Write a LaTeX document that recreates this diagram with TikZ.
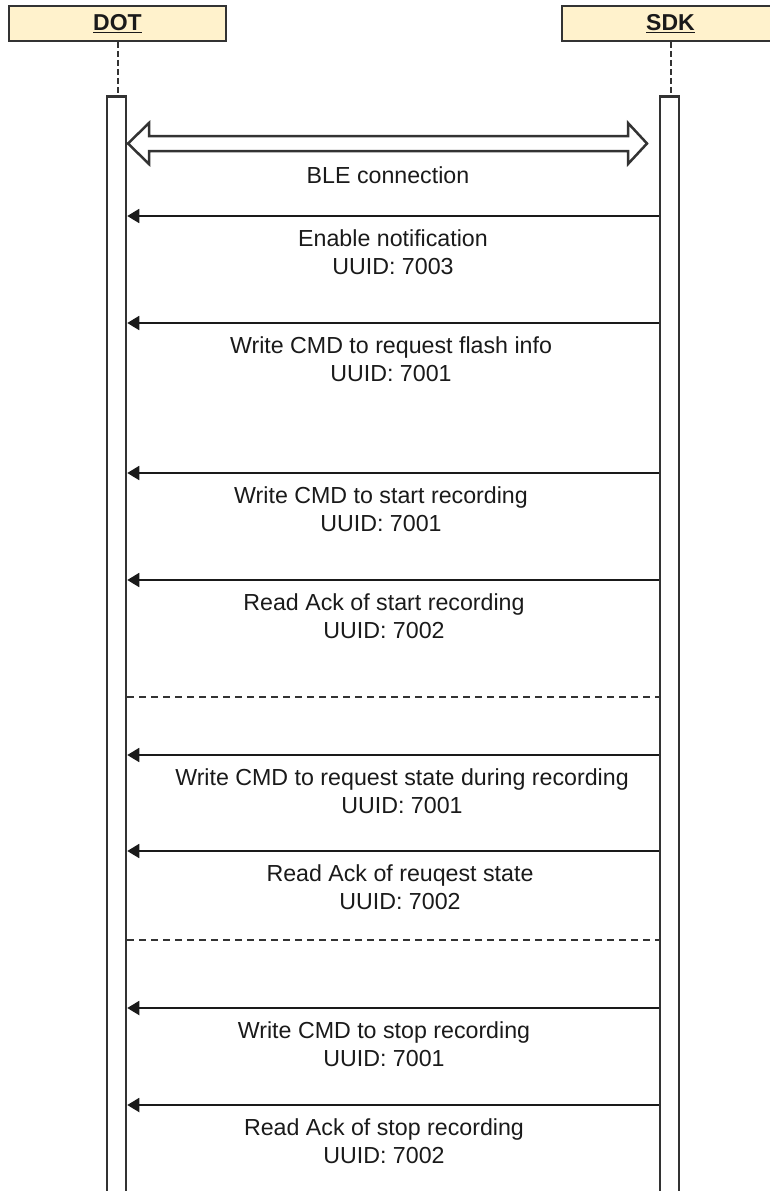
\documentclass[tikz,border=0pt]{standalone}
\usepackage{fontspec}
\setmainfont{Liberation Sans}
\usetikzlibrary{arrows.meta}
\definecolor{boxfill}{HTML}{FFF2CC}
\definecolor{strokec}{HTML}{333333}
\definecolor{textc}{HTML}{1A1A1A}
\begin{document}
\begin{tikzpicture}[x=1pt,y=-1pt,
  actor/.style={draw=strokec, line width=1.8pt, fill=boxfill, minimum width=217pt, minimum height=35pt, inner sep=0pt, font=\fontsize{23}{28}\selectfont\bfseries, text=textc},
  bar/.style={draw=strokec, line width=2.5pt, fill=white, minimum width=19pt, minimum height=1200pt, anchor=north, inner sep=0pt},
  life/.style={draw=strokec, line width=2pt, dash pattern=on 6pt off 3pt},
  msg/.style={draw=textc, line width=1.8pt, -{Triangle[length=12pt,width=14pt]}},
  sep/.style={draw=strokec, line width=1.8pt, dash pattern=on 7pt off 5pt},
  blockarrow/.style={draw=strokec, line width=2.5pt, fill=white, line join=miter},
  lbl/.style={align=center, anchor=north, inner sep=0pt, font=\fontsize{23.2}{28}\selectfont, text=textc}]
\useasboundingbox (0,0) rectangle (770,1191);
\clip (0,0) rectangle (770,1191);
% actors
\node[actor] (dot) at (117.5,23.5) {\underline{DOT}};
\node[actor] (sdk) at (670.5,23.5) {\underline{SDK}};
% activation bars
\node[bar] (dotbar) at (116.5,95) {};
\node[bar] (sdkbar) at (669.5,95) {};
% lifelines
\draw[life] (dot.south) -- (dot.south |- dotbar.north);
\draw[life] (sdk.south) -- (sdk.south |- sdkbar.north);
% BLE connection block arrow
\draw[blockarrow] (128,143.5) -- (149,123) -- (149,136) -- (628,136) -- (628,123) -- (647,143.5) -- (628,164) -- (628,151) -- (149,151) -- (149,164) -- cycle;
\node[lbl] (ble) at (388,166.5) {BLE connection};
% messages
\draw[msg] (sdkbar.west |- 0,216) -- (dotbar.east |- 0,216);
\node[lbl] (l1) at (393,229) {Enable notification\\UUID: 7003};
\draw[msg] (sdkbar.west |- 0,323) -- (dotbar.east |- 0,323);
\node[lbl] (l2) at (391,336) {Write CMD to request flash info\\UUID: 7001};
\draw[msg] (sdkbar.west |- 0,473) -- (dotbar.east |- 0,473);
\node[lbl] (l3) at (381,486) {Write CMD to start recording\\UUID: 7001};
\draw[msg] (sdkbar.west |- 0,580) -- (dotbar.east |- 0,580);
\node[lbl] (l4) at (384,593) {Read Ack of start recording\\UUID: 7002};
\draw[sep] (dotbar.east |- 0,697) -- (sdkbar.west |- 0,697);
\draw[msg] (sdkbar.west |- 0,755) -- (dotbar.east |- 0,755);
\node[lbl] (l5) at (402,768) {Write CMD to request state during recording\\UUID: 7001};
\draw[msg] (sdkbar.west |- 0,851) -- (dotbar.east |- 0,851);
\node[lbl] (l6) at (400,864) {Read Ack of reuqest state\\UUID: 7002};
\draw[sep] (dotbar.east |- 0,940) -- (sdkbar.west |- 0,940);
\draw[msg] (sdkbar.west |- 0,1008) -- (dotbar.east |- 0,1008);
\node[lbl] (l7) at (384,1021) {Write CMD to stop recording\\UUID: 7001};
\draw[msg] (sdkbar.west |- 0,1105) -- (dotbar.east |- 0,1105);
\node[lbl] (l8) at (384,1118) {Read Ack of stop recording\\UUID: 7002};
\end{tikzpicture}
\end{document}
